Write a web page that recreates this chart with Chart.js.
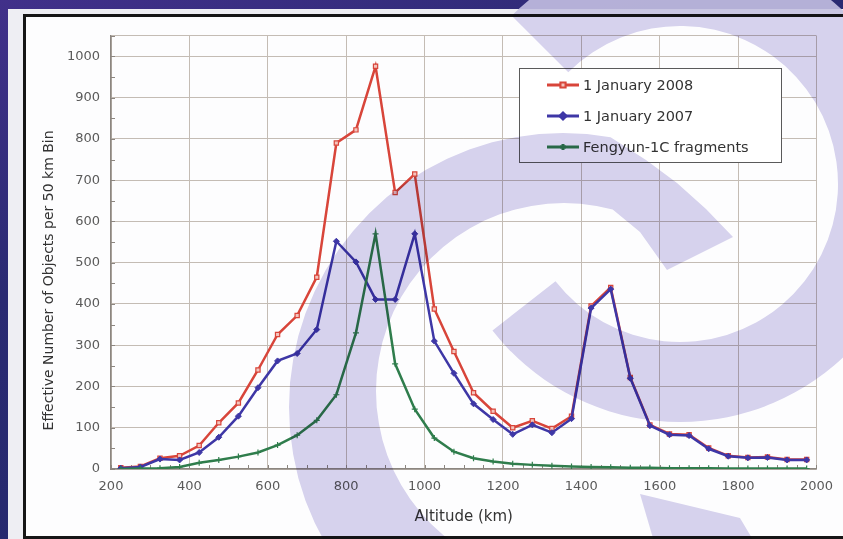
<!DOCTYPE html>
<html>
<head>
<meta charset="utf-8">
<script src="https://cdn.jsdelivr.net/npm/chart.js@4.4.1/dist/chart.umd.min.js"></script>
<style>
  html, body { margin: 0; padding: 0; }
  body {
    width: 843px; height: 539px; overflow: hidden; position: relative;
    background: linear-gradient(160deg, #41308a 0%, #2a2a72 35%, #22286a 100%);
    font-family: "DejaVu Sans", sans-serif;
  }
  #panel { position: absolute; left: 8px; top: 9px; width: 860px; height: 560px; background: #eeeef3; }
  #frame {
    position: absolute; left: 23px; top: 14px; width: 840px; height: 519px;
    border: 3px solid #161616; border-right: none; background: #fdfdfe;
  }
  #grafico { position: absolute; left: 0; top: 0; }
  #legenda {
    position: absolute; left: 519px; top: 68px; width: 263px; height: 95px;
    box-sizing: border-box; border: 1px solid #5a5a5a; background: #fff;
  }
  .item { height: 31px; display: flex; align-items: center; font-size: 14.5px; color: #333; }
  .item canvas { margin-left: 27px; margin-right: 4px; }
  .marca { position: absolute; left: 0; top: 0; width: 843px; height: 539px; pointer-events: none; }
  #marcaMult { mix-blend-mode: multiply; }
  #marcaTopo { clip-path: inset(0 0 530px 0); }
</style>
</head>
<body>
<div id="panel"></div>
<div id="frame"><canvas id="grafico" width="817" height="519"></canvas></div>
<div id="legenda"></div>
<svg id="marcaMult" class="marca" viewBox="0 0 843 539"></svg>
<svg id="marcaTopo" class="marca" viewBox="0 0 843 539"></svg>
<script>
// === Dados ===
const altitudeKm = [225, 275, 325, 375, 425, 475, 525, 575, 625, 675, 725, 775, 825, 875, 925, 975, 1025, 1075,
    1125, 1175, 1225, 1275, 1325, 1375, 1425, 1475, 1525, 1575, 1625, 1675, 1725, 1775, 1825, 1875, 1925, 1975];
const jan2008 = [3, 6, 26, 32, 57, 112, 160, 240, 326, 372, 465, 790, 822, 976, 670, 715, 388, 285,
    185, 140, 100, 117, 98, 128, 395, 440, 222, 107, 85, 83, 51, 32, 28, 29, 23, 23];
const jan2007 = [2, 5, 24, 22, 40, 77, 128, 197, 262, 280, 338, 552, 502, 411, 411, 570, 310, 232,
    158, 120, 84, 107, 88, 122, 390, 436, 220, 105, 83, 81, 49, 31, 27, 28, 22, 22];
const fengyun = [0, 1, 2, 5, 15, 22, 30, 40, 58, 82, 118, 180, 330, 570, 255, 145, 75, 42,
    26, 18, 13, 10, 8, 6, 5, 4, 3, 3, 2, 2, 2, 1, 1, 1, 1, 1];
const xTicks = [200, 400, 600, 800, 1000, 1200, 1400, 1600, 1800, 2000];
const yTicks = [0, 100, 200, 300, 400, 500, 600, 700, 800, 900, 1000];

const tituloX = "Altitude (km)";
const tituloY = "Effective Number of Objects per 50 km Bin";

const corGrade = "#c4bcb4";
const corEixo = "#8c8680";
const fonte = '"DejaVu Sans", sans-serif';

function pontos(valores) {
    return altitudeKm.map((km, i) => ({ x: km, y: valores[i] }));
}

const series = [
    { label: "1 January 2008", data: pontos(jan2008), borderColor: "#d8453a", backgroundColor: "#f4c4bd",
      pointStyle: "rect", pointRadius: 3, pointBorderWidth: 1.2, order: 3 },
    { label: "1 January 2007", data: pontos(jan2007), borderColor: "#3e37a6", backgroundColor: "#3e37a6",
      pointStyle: "rectRot", pointRadius: 3, pointBorderWidth: 1, order: 2 },
    { label: "Fengyun-1C fragments", data: pontos(fengyun), borderColor: "#2f7d4c", backgroundColor: "#2f7d4c",
      pointStyle: "cross", pointRadius: 3, pointBorderWidth: 1.2, order: 1 }
];
series.forEach(s => { s.borderWidth = 2.5; s.tension = 0; s.fill = false; });

// --- Marcas pequenas nos eixos (a cada 50) ---
const marcasMenores = {
    id: "marcasMenores",
    beforeDatasetsDraw(chart) {
        const { ctx, chartArea, scales: { x, y } } = chart;
        ctx.save();
        ctx.strokeStyle = corEixo;
        ctx.lineWidth = 1;
        ctx.beginPath();
        x.ticks.forEach(t => {
            const px = Math.round(x.getPixelForValue(t.value)) + 0.5;
            ctx.moveTo(px, chartArea.bottom);
            ctx.lineTo(px, chartArea.bottom - 4);
        });
        y.ticks.forEach(t => {
            const py = Math.round(y.getPixelForValue(t.value)) + 0.5;
            ctx.moveTo(chartArea.left, py);
            ctx.lineTo(chartArea.left + 4, py);
        });
        ctx.stroke();
        ctx.restore();
    }
};

// --- Título do eixo Y (um pouco abaixo do centro, como no original) ---
const tituloEixoY = {
    id: "tituloEixoY",
    afterDraw(chart) {
        const { ctx, scales: { y } } = chart;
        ctx.save();
        ctx.translate(23, (y.top + y.bottom) / 2 + 28);
        ctx.rotate(-Math.PI / 2);
        ctx.font = "14px " + fonte;
        ctx.fillStyle = "#333";
        ctx.textAlign = "center";
        ctx.textBaseline = "middle";
        ctx.fillText(tituloY, 0, 0);
        ctx.restore();
    }
};

const chart = new Chart(document.getElementById("grafico"), {
    type: "line",
    data: { datasets: series },
    options: {
        responsive: false,
        animation: false,
        devicePixelRatio: 1,
        layout: { padding: { top: 15, right: 24, left: 0, bottom: 0 } },
        plugins: { legend: { display: false }, tooltip: { enabled: false } },
        scales: {
            x: {
                type: "linear", min: 200, max: 2000,
                afterFit: s => { s.height = 67; },
                ticks: {
                    stepSize: 50, autoSkip: false, maxRotation: 0, padding: 10,
                    color: "#5a5a5a", font: { family: fonte, size: 13 },
                    callback: v => xTicks.includes(v) ? String(v) : ""
                },
                grid: { drawTicks: false, color: c => (c.tick && xTicks.includes(c.tick.value)) ? corGrade : "rgba(0,0,0,0)" },
                border: { color: corEixo, width: 1.5 },
                title: { display: true, text: tituloX, color: "#333", font: { family: fonte, size: 15 }, padding: { top: 0, bottom: 10 } }
            },
            y: {
                min: 0, max: 1050,
                afterFit: s => { s.width = 85; },
                ticks: {
                    stepSize: 50, autoSkip: false, padding: 11,
                    color: "#5a5a5a", font: { family: fonte, size: 13 },
                    callback: v => yTicks.includes(v) ? String(v) : ""
                },
                grid: { drawTicks: false, color: c => (c.tick && (yTicks.includes(c.tick.value) || c.tick.value === 1050)) ? corGrade : "rgba(0,0,0,0)" },
                border: { color: corEixo, width: 1.5 }
            }
        }
    },
    plugins: [marcasMenores, tituloEixoY]
});

// === Legenda (caixa dentro do gráfico) ===
const legenda = document.getElementById("legenda");
series.forEach(s => {
    const linha = document.createElement("div");
    linha.className = "item";
    const amostra = document.createElement("canvas");
    amostra.width = 32; amostra.height = 12;
    const c = amostra.getContext("2d");
    c.strokeStyle = s.borderColor;
    c.lineWidth = 3;
    c.beginPath(); c.moveTo(0, 6); c.lineTo(32, 6); c.stroke();
    Chart.helpers.drawPoint(c, { pointStyle: s.pointStyle, radius: 3, borderWidth: s.pointBorderWidth }, 16, 6);
    c.fillStyle = s.backgroundColor;
    c.fill();
    c.lineWidth = s.pointBorderWidth;
    c.stroke();
    linha.appendChild(amostra);
    linha.appendChild(document.createTextNode(s.label));
    legenda.appendChild(linha);
});

// === Marca d'água (arcos lilás por cima) ===
function faixaArco(cx, cy, rIn, rOut, a0, a1) {
    const p = (r, a) => [cx + r * Math.cos(a * Math.PI / 180), cy + r * Math.sin(a * Math.PI / 180)];
    const [ox0, oy0] = p(rOut, a0), [ox1, oy1] = p(rOut, a1);
    const [ix1, iy1] = p(rIn, a1), [ix0, iy0] = p(rIn, a0);
    const grande = (a1 - a0) > 180 ? 1 : 0;
    return `M${ox0},${oy0} A${rOut},${rOut} 0 ${grande} 1 ${ox1},${oy1} L${ix1},${iy1} A${rIn},${rIn} 0 ${grande} 0 ${ix0},${iy0} Z`;
}
function faixaC() {
    const pts = [[733, 237], [706, 209], [677, 183], [646, 160]];
    for (let a = 280; a >= 140; a -= 5) pts.push([563 + 274 * Math.cos(a * Math.PI / 180), 407 + 274 * Math.sin(a * Math.PI / 180)]);
    for (let a = 110; a <= 285; a += 5) pts.push([564 + 188 * Math.cos(a * Math.PI / 180), 391 + 188 * Math.sin(a * Math.PI / 180)]);
    pts.push([640, 232], [667, 270]);
    return "M" + pts.map(p => p[0].toFixed(1) + "," + p[1].toFixed(1)).join(" L") + " Z";
}
const formas = [
    faixaArco(680, 184, 158, 238, -135, 142),
    faixaC(),
    "M640,494 L740,518 L756,545 L655,545 Z"
];
document.getElementById("marcaMult").innerHTML = formas.map(d => `<path d="${d}" fill="rgb(216,212,238)"/>`).join("");
document.getElementById("marcaTopo").innerHTML = formas.map(d => `<path d="${d}" fill="rgba(206,201,234,0.85)"/>`).join("");
</script>
</body>
</html>
